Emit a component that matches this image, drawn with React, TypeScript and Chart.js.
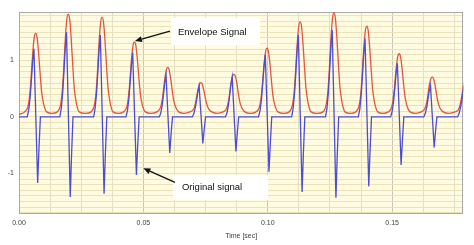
import React, { useEffect, useRef } from "react";
import { Chart, registerables } from "chart.js";

Chart.register(...registerables);

// Envelope signal: [time (s), value]
const envelopePoints: number[][] = [
  [0, 0.04], [0.0023, 0.09],
  [0.0035, 0.17], [0.0041, 0.31], [0.0047, 0.59], [0.0051, 0.85], [0.0055, 1.12], [0.0061, 1.4], [0.0067, 1.48], [0.0073, 1.4], [0.0079, 1.12], [0.0085, 0.76], [0.0091, 0.44], [0.0099, 0.23], [0.0111, 0.09],
  [0.0133, 0.065],
  [0.0154, 0.09], [0.0166, 0.19], [0.0172, 0.37], [0.0178, 0.71], [0.0182, 1.04], [0.0186, 1.37], [0.0192, 1.72], [0.0198, 1.82], [0.0204, 1.72], [0.021, 1.37], [0.0216, 0.92], [0.0222, 0.52], [0.023, 0.26], [0.0242, 0.09],
  [0.0266, 0.065],
  [0.029, 0.09], [0.0302, 0.19], [0.0308, 0.36], [0.0314, 0.69], [0.0318, 1.01], [0.0322, 1.33], [0.0328, 1.67], [0.0334, 1.77], [0.034, 1.67], [0.0346, 1.33], [0.0352, 0.9], [0.0358, 0.51], [0.0366, 0.26], [0.0378, 0.09],
  [0.0399, 0.065],
  [0.042, 0.09], [0.0432, 0.16], [0.0438, 0.29], [0.0444, 0.54], [0.0448, 0.77], [0.0452, 1.01], [0.0458, 1.26], [0.0464, 1.33], [0.047, 1.26], [0.0476, 1.01], [0.0482, 0.69], [0.0488, 0.4], [0.0496, 0.21], [0.0508, 0.09],
  [0.0531, 0.065],
  [0.0554, 0.09], [0.0566, 0.14], [0.0572, 0.22], [0.0578, 0.37], [0.0582, 0.52], [0.0586, 0.67], [0.0592, 0.83], [0.0598, 0.88], [0.0604, 0.83], [0.061, 0.67], [0.0616, 0.47], [0.0622, 0.29], [0.063, 0.17], [0.0642, 0.09],
  [0.0665, 0.065],
  [0.0687, 0.09], [0.0699, 0.12], [0.0705, 0.17], [0.0711, 0.28], [0.0715, 0.38], [0.0719, 0.47], [0.0725, 0.58], [0.0731, 0.61], [0.0737, 0.58], [0.0743, 0.47], [0.0749, 0.34], [0.0755, 0.22], [0.0763, 0.14], [0.0775, 0.09],
  [0.0798, 0.065],
  [0.082, 0.09], [0.0832, 0.13], [0.0838, 0.2], [0.0844, 0.33], [0.0848, 0.46], [0.0852, 0.59], [0.0858, 0.72], [0.0864, 0.76], [0.087, 0.72], [0.0876, 0.59], [0.0882, 0.41], [0.0888, 0.26], [0.0896, 0.16], [0.0908, 0.09],
  [0.0931, 0.065],
  [0.0953, 0.09], [0.0965, 0.16], [0.0971, 0.27], [0.0977, 0.5], [0.0981, 0.71], [0.0985, 0.93], [0.0991, 1.15], [0.0997, 1.22], [0.1003, 1.15], [0.1009, 0.93], [0.1015, 0.63], [0.1021, 0.37], [0.1029, 0.2], [0.1041, 0.09],
  [0.1064, 0.065],
  [0.1086, 0.09], [0.1098, 0.19], [0.1104, 0.35], [0.111, 0.67], [0.1114, 0.97], [0.1118, 1.27], [0.1124, 1.59], [0.113, 1.69], [0.1136, 1.59], [0.1142, 1.27], [0.1148, 0.86], [0.1154, 0.49], [0.1162, 0.25], [0.1174, 0.09],
  [0.1198, 0.065],
  [0.1222, 0.09], [0.1234, 0.2], [0.124, 0.37], [0.1246, 0.72], [0.125, 1.06], [0.1254, 1.39], [0.126, 1.74], [0.1266, 1.85], [0.1272, 1.74], [0.1278, 1.39], [0.1284, 0.94], [0.129, 0.53], [0.1298, 0.27], [0.131, 0.09],
  [0.1332, 0.065],
  [0.1354, 0.09], [0.1366, 0.18], [0.1372, 0.33], [0.1378, 0.64], [0.1382, 0.93], [0.1386, 1.21], [0.1392, 1.52], [0.1398, 1.61], [0.1404, 1.52], [0.141, 1.21], [0.1416, 0.82], [0.1422, 0.47], [0.143, 0.24], [0.1442, 0.09],
  [0.1463, 0.065],
  [0.1484, 0.09], [0.1496, 0.15], [0.1502, 0.26], [0.1508, 0.46], [0.1512, 0.66], [0.1516, 0.85], [0.1522, 1.06], [0.1528, 1.12], [0.1534, 1.06], [0.154, 0.85], [0.1546, 0.58], [0.1552, 0.35], [0.156, 0.19], [0.1572, 0.09],
  [0.1595, 0.065],
  [0.1617, 0.09], [0.1629, 0.13], [0.1635, 0.19], [0.1641, 0.31], [0.1645, 0.43], [0.1649, 0.55], [0.1655, 0.67], [0.1661, 0.71], [0.1667, 0.67], [0.1673, 0.55], [0.1679, 0.39], [0.1685, 0.25], [0.1693, 0.15], [0.1705, 0.09],
  [0.1729, 0.065],
  [0.1753, 0.09], [0.1765, 0.12], [0.1771, 0.18], [0.1777, 0.3], [0.1781, 0.4], [0.1785, 0.51], [0.1791, 0.63], [0.1797, 0.66],
];

// Original signal: [time (s), value]
const originalPoints: number[][] = [
  [0, 0],
  [0.0033, 0], [0.0039, 0.12], [0.0045, 0.36], [0.005, 0.67], [0.0055, 0.99], [0.006, 1.21], [0.0075, -1.17], [0.008, -0.59], [0.0086, 0],
  [0.0164, 0], [0.017, 0.15], [0.0176, 0.45], [0.0181, 0.83], [0.0186, 1.23], [0.0191, 1.5], [0.0206, -1.42], [0.0211, -0.71], [0.0217, 0],
  [0.03, 0], [0.0306, 0.15], [0.0312, 0.44], [0.0317, 0.8], [0.0322, 1.19], [0.0327, 1.45], [0.0342, -1.36], [0.0347, -0.68], [0.0353, 0],
  [0.043, 0], [0.0436, 0.11], [0.0442, 0.34], [0.0447, 0.63], [0.0452, 0.93], [0.0457, 1.14], [0.0472, -1.03], [0.0477, -0.52], [0.0483, 0],
  [0.0564, 0], [0.057, 0.07], [0.0576, 0.22], [0.0581, 0.41], [0.0586, 0.61], [0.0591, 0.74], [0.0606, -0.64], [0.0611, -0.32], [0.0617, 0],
  [0.0697, 0], [0.0703, 0.06], [0.0709, 0.17], [0.0714, 0.3], [0.0719, 0.45], [0.0724, 0.55], [0.0739, -0.47], [0.0744, -0.24], [0.075, 0],
  [0.083, 0], [0.0836, 0.07], [0.0842, 0.21], [0.0847, 0.39], [0.0852, 0.58], [0.0857, 0.71], [0.0872, -0.61], [0.0877, -0.31], [0.0883, 0],
  [0.0963, 0], [0.0969, 0.11], [0.0975, 0.33], [0.098, 0.61], [0.0985, 0.9], [0.099, 1.1], [0.1005, -0.97], [0.101, -0.49], [0.1016, 0],
  [0.1096, 0], [0.1102, 0.15], [0.1108, 0.44], [0.1113, 0.8], [0.1118, 1.19], [0.1123, 1.45], [0.1138, -1.33], [0.1143, -0.67], [0.1149, 0],
  [0.1232, 0], [0.1238, 0.15], [0.1244, 0.46], [0.1249, 0.85], [0.1254, 1.26], [0.1259, 1.54], [0.1274, -1.43], [0.1279, -0.72], [0.1285, 0],
  [0.1364, 0], [0.137, 0.14], [0.1376, 0.42], [0.1381, 0.76], [0.1386, 1.14], [0.1391, 1.39], [0.1406, -1.23], [0.1411, -0.62], [0.1417, 0],
  [0.1494, 0], [0.15, 0.1], [0.1506, 0.29], [0.1511, 0.52], [0.1516, 0.78], [0.1521, 0.95], [0.1536, -0.85], [0.1541, -0.43], [0.1547, 0],
  [0.1627, 0], [0.1633, 0.06], [0.1639, 0.17], [0.1644, 0.31], [0.1649, 0.46], [0.1654, 0.56], [0.1669, -0.54], [0.1674, -0.27], [0.168, 0],
  [0.1763, 0], [0.1769, 0.06], [0.1775, 0.17], [0.178, 0.3], [0.1785, 0.45], [0.179, 0.55],
];

const xTickLabels = ["0.00", "0.05", "0.10", "0.15"];
const yTickLabels = ["1", "0", "-1"];
const xTitle = "Time [sec]";

// Annotations in data coordinates
const envelopeLabel = { text: "Envelope Signal", box: [0.0611, 1.76, 0.0969, 1.27], textAt: [0.0639, 1.5], arrowFrom: [0.0607, 1.52], arrowTo: [0.0466, 1.345] };
const originalLabel = { text: "Original signal", box: [0.0619, -1.03, 0.1001, -1.47], textAt: [0.0655, -1.24], arrowFrom: [0.0627, -1.16], arrowTo: [0.05, -0.91] };

const X_MIN = 0, X_MAX = 0.1786, Y_MIN = -1.72, Y_MAX = 1.86;
const AXIS_FONT = { family: "'Liberation Sans', Arial, sans-serif", size: 7 };

export default function App() {
  const ref = useRef<HTMLCanvasElement | null>(null);
  useEffect(() => {
    if (!ref.current) return;
    const bgPlugin = {
      id: "bg",
      beforeDraw(chart: any) {
        const { ctx, chartArea: a } = chart;
        ctx.save();
        ctx.fillStyle = "#ffffff";
        ctx.fillRect(0, 0, chart.width, chart.height);
        ctx.fillStyle = "#fffbe0";
        ctx.fillRect(a.left, a.top, a.right - a.left, a.bottom - a.top);
        ctx.restore();
      },
      beforeDatasetsDraw(chart: any) {
        const { ctx, chartArea: a } = chart;
        ctx.save();
        ctx.strokeStyle = "#a9a9a9";
        ctx.lineWidth = 1;
        ctx.strokeRect(Math.round(a.left) + 0.5, Math.round(a.top) + 0.5, Math.round(a.right - a.left) - 1, Math.round(a.bottom - a.top) - 1);
        ctx.restore();
      },
      afterDatasetsDraw(chart: any) {
        const { ctx } = chart;
        const xs = chart.scales.x, ys = chart.scales.y;
        const px = (v: number) => xs.getPixelForValue(v);
        const py = (v: number) => ys.getPixelForValue(v);
        ctx.save();
        for (const lab of [envelopeLabel, originalLabel]) {
          const [x0, y0, x1, y1] = lab.box;
          ctx.fillStyle = "#ffffff";
          ctx.fillRect(px(x0), py(y0), px(x1) - px(x0), py(y1) - py(y0));
          ctx.fillStyle = "#111111";
          ctx.font = "9.5px 'Liberation Sans', Arial, sans-serif";
          ctx.textBaseline = "middle";
          ctx.textAlign = "left";
          ctx.fillText(lab.text, px(lab.textAt[0]), py(lab.textAt[1]));
          const fx = px(lab.arrowFrom[0]), fy = py(lab.arrowFrom[1]);
          const tx = px(lab.arrowTo[0]), ty = py(lab.arrowTo[1]);
          const ang = Math.atan2(ty - fy, tx - fx);
          const hl = 7, hw = 3;
          const bx = tx - hl * Math.cos(ang), by = ty - hl * Math.sin(ang);
          ctx.strokeStyle = "#111111";
          ctx.lineWidth = 1.3;
          ctx.beginPath();
          ctx.moveTo(fx, fy);
          ctx.lineTo(bx, by);
          ctx.stroke();
          ctx.beginPath();
          ctx.moveTo(tx, ty);
          ctx.lineTo(bx + hw * Math.sin(ang), by - hw * Math.cos(ang));
          ctx.lineTo(bx - hw * Math.sin(ang), by + hw * Math.cos(ang));
          ctx.closePath();
          ctx.fillStyle = "#111111";
          ctx.fill();
        }
        ctx.restore();
      },
    };

    const chart = new Chart(ref.current, {
      type: "line",
      data: {
        datasets: [
          {
            label: "Original signal",
            data: originalPoints.map(([x, y]) => ({ x, y })),
            borderColor: "#4c4cd4",
            borderWidth: 1.3,
            pointRadius: 0,
            tension: 0,
            fill: false,
          },
          {
            label: "Envelope Signal",
            data: envelopePoints.map(([x, y]) => ({ x, y })),
            borderColor: "#e2553f",
            borderWidth: 1.3,
            pointRadius: 0,
            cubicInterpolationMode: "monotone",
            fill: false,
          },
        ],
      },
      options: {
        animation: false,
        responsive: false,
        devicePixelRatio: 1,
        parsing: false as any,
        layout: { padding: { left: 0, top: 12, right: 10.7, bottom: 0 } },
        plugins: { legend: { display: false }, tooltip: { enabled: false } },
        scales: {
          x: {
            type: "linear",
            min: X_MIN,
            max: X_MAX,
            afterBuildTicks: (s: any) => {
              const t = [];
              for (let k = 0; k * 0.0125 <= X_MAX + 1e-9; k++) t.push({ value: Math.round(k * 125) / 10000 });
              s.ticks = t;
            },
            afterFit: (s: any) => { s.height = 31; },
            ticks: {
              autoSkip: false,
              maxRotation: 0,
              padding: 5,
              color: "#404040",
              font: AXIS_FONT,
              callback: (v: any) => xTickLabels.find((l) => Math.abs(parseFloat(l) - Number(v)) < 1e-6) ?? "",
            },
            grid: {
              drawTicks: false,
              color: (c: any) => (c.tick && Math.abs(c.tick.value / 0.05 - Math.round(c.tick.value / 0.05)) < 1e-6 ? "#c8c6bc" : "#e2dfc8"),
              lineWidth: 1,
            },
            border: { display: false },
            title: { display: true, text: xTitle, color: "#404040", font: AXIS_FONT, padding: { top: 0, bottom: 5 } },
          },
          y: {
            type: "linear",
            min: Y_MIN,
            max: Y_MAX,
            afterBuildTicks: (s: any) => {
              const t = [];
              for (let k = -17; k <= 18; k++) t.push({ value: k / 10 });
              s.ticks = t;
            },
            afterFit: (s: any) => { s.width = 19; },
            ticks: {
              autoSkip: false,
              padding: 5,
              color: "#404040",
              font: AXIS_FONT,
              callback: (v: any) => yTickLabels.find((l) => Math.abs(parseFloat(l) - Number(v)) < 1e-6) ?? "",
            },
            grid: { drawTicks: false, color: "#ebe2b8", lineWidth: 1 },
            border: { display: false },
          },
        },
      } as any,
      plugins: [bgPlugin],
    });
    return () => chart.destroy();
  }, []);
  return (
    <div style={{ position: "fixed", left: 0, top: 0, width: 474, height: 245, background: "#fff" }}>
      <canvas ref={ref} width={474} height={245} style={{ display: "block" }} />
    </div>
  );
}
